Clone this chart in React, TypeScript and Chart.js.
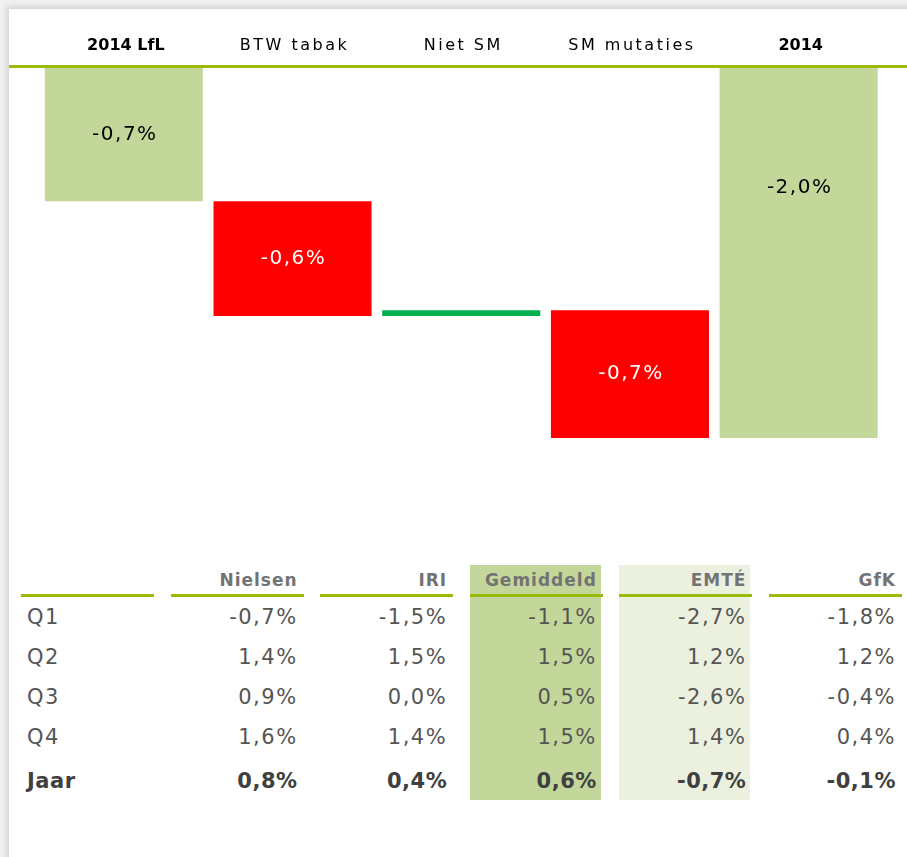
import React, { useEffect, useRef } from "react";
import { Chart, registerables } from "chart.js";

Chart.register(...registerables);

// ---- Waterfall data ----
const categories = ["2014 LfL", "BTW tabak", "Niet SM", "SM mutaties", "2014"];
const isTotal = [true, false, false, false, true];
const startValue = -0.72;
const steps = [-0.62, 0.03, -0.69];
const endValue = -2.0;

// ---- Table data ----
const tableRows = ["Q1", "Q2", "Q3", "Q4", "Jaar"];
const tableCols = ["Nielsen", "IRI", "Gemiddeld", "EMTÉ", "GfK"];
const nielsen = [-0.7, 1.4, 0.9, 1.6, 0.8];
const iri = [-1.5, 1.5, 0.0, 1.4, 0.4];
const gemiddeld = [-1.1, 1.5, 0.5, 1.5, 0.6];
const emte = [-2.7, 1.2, -2.6, 1.4, -0.7];
const gfk = [-1.8, 1.2, -0.4, 0.4, -0.1];
const tableValues = [nielsen, iri, gemiddeld, emte, gfk];

const GREEN_LIGHT = "#c4d79b";
const GREEN_PALE = "#ebf1de";
const RED = "#ff0000";
const GREEN_UP = "#00b050";
const LINE_GREEN = "#9bbb0a";

const fmt = (v: number) => v.toFixed(1).replace(".", ",") + "%";

// build floating bars
const floating: [number, number][] = [];
const barValues: number[] = [];
const barColors: string[] = [];
(() => {
  floating.push([startValue, 0]);
  barValues.push(startValue);
  barColors.push(GREEN_LIGHT);
  let run = startValue;
  steps.forEach((s) => {
    const next = run + s;
    floating.push([Math.min(run, next), Math.max(run, next)]);
    barValues.push(s);
    barColors.push(s < 0 ? RED : GREEN_UP);
    run = next;
  });
  floating.push([endValue, 0]);
  barValues.push(endValue);
  barColors.push(GREEN_LIGHT);
})();

const labelsPlugin = {
  id: "wfLabels",
  afterDatasetsDraw(chart: any) {
    const ctx = chart.ctx as CanvasRenderingContext2D;
    const meta = chart.getDatasetMeta(0);
    meta.data.forEach((bar: any, i: number) => {
      const v = barValues[i];
      if (Math.abs(v) < 0.05) return;
      const { x, y, base } = bar.getProps(["x", "y", "base"], true);
      const top = Math.min(y, base);
      const bottom = Math.max(y, base);
      const cy = i === categories.length - 1 ? top + (bottom - top) * 0.325 : (top + bottom) / 2;
      ctx.save();
      ctx.font = '20px "DejaVu Sans"';
      (ctx as any).letterSpacing = "1.5px";
      ctx.fillStyle = isTotal[i] ? "#000000" : "#ffffff";
      ctx.textAlign = "center";
      ctx.textBaseline = "middle";
      ctx.fillText(fmt(v), x + 1, cy);
      ctx.restore();
    });
  },
  afterDraw(chart: any) {
    const ctx = chart.ctx as CanvasRenderingContext2D;
    const xs = chart.scales.x;
    ctx.save();
    ctx.fillStyle = LINE_GREEN;
    ctx.fillRect(9, chart.chartArea.top - 3, chart.width - 9, 3);
    ctx.fillStyle = "#000000";
    ctx.textAlign = "center";
    ctx.textBaseline = "middle";
    categories.forEach((c, i) => {
      const px = xs.getPixelForValue(i);
      if (isTotal[i]) {
        ctx.font = 'bold 16px "DejaVu Sans"';
        (ctx as any).letterSpacing = "0px";
      } else {
        ctx.font = '16px "DejaVu Sans"';
        (ctx as any).letterSpacing = "2.5px";
      }
      ctx.fillText(c, px + 2, 46);
    });
    ctx.restore();
  },
};

function WaterfallChart() {
  const ref = useRef<HTMLCanvasElement | null>(null);
  useEffect(() => {
    if (!ref.current) return;
    const chart = new Chart(ref.current, {
      type: "bar",
      data: {
        labels: categories,
        datasets: [
          {
            data: floating as any,
            backgroundColor: barColors,
            borderWidth: 0,
            barPercentage: 0.937,
            categoryPercentage: 1,
            borderSkipped: false,
          },
        ],
      },
      options: {
        responsive: false,
        animation: false,
        layout: { padding: { top: 68, left: 39.5, right: 24, bottom: 22 } },
        plugins: { legend: { display: false }, tooltip: { enabled: false } },
        scales: {
          x: { display: false, offset: true },
          y: { display: false, min: -2.0, max: 0 },
        },
      },
      plugins: [labelsPlugin],
    });
    return () => chart.destroy();
  }, []);
  return (
    <canvas
      ref={ref}
      width={907}
      height={460}
      style={{ position: "absolute", left: 0, top: 0, width: 907, height: 460 }}
    />
  );
}

const COL_LEFT0 = 21;
const COL_PITCH = 149.6;
const COL_W = 133;
const ROW_Y = [620, 660, 700, 740, 784];
const HEADER_Y = 582;

function DataTable() {
  const cells: React.ReactNode[] = [];
  const bg: Record<number, string> = { 3: GREEN_LIGHT, 4: GREEN_PALE };
  for (let c = 0; c < 6; c++) {
    const left = COL_LEFT0 + c * COL_PITCH;
    if (bg[c]) {
      cells.push(
        <div key={"bg" + c} style={{ position: "absolute", left, top: 565, width: COL_W - 2, height: 235, background: bg[c] }} />
      );
    }
    cells.push(
      <div key={"ul" + c} style={{ position: "absolute", left, top: 594, width: COL_W, height: 3, background: LINE_GREEN }} />
    );
    if (c > 0) {
      cells.push(
        <div
          key={"h" + c}
          style={{
            position: "absolute", left, top: HEADER_Y - 12, width: COL_W - 6, height: 24, lineHeight: "24px",
            textAlign: "right", font: 'bold 17px "DejaVu Sans"', letterSpacing: "1px", color: "#737373",
          }}
        >
          {tableCols[c - 1]}
        </div>
      );
    }
  }
  tableRows.forEach((r, ri) => {
    const bold = ri === tableRows.length - 1;
    const font = (bold ? "bold " : "") + '21px "DejaVu Sans"';
    const color = bold ? "#404040" : "#555555";
    cells.push(
      <div
        key={"r" + ri}
        style={{
          position: "absolute", left: 27, top: ROW_Y[ri] - 15, height: 30, lineHeight: "30px",
          font, letterSpacing: bold ? "0.5px" : "1.5px", color,
        }}
      >
        {r}
      </div>
    );
    tableValues.forEach((col, ci) => {
      const left = COL_LEFT0 + (ci + 1) * COL_PITCH;
      cells.push(
        <div
          key={"v" + ri + "_" + ci}
          style={{
            position: "absolute", left, top: ROW_Y[ri] - 15, width: COL_W - 6, height: 30, lineHeight: "30px",
            textAlign: "right", font, letterSpacing: bold ? "0.5px" : "1.5px", color,
          }}
        >
          {fmt(col[ri])}
        </div>
      );
    });
  });
  return <>{cells}</>;
}

export default function App() {
  return (
    <div style={{ position: "absolute", left: 0, top: 0, width: 907, height: 857, background: "#f2f2f2", overflow: "hidden" }}>
      <div
        style={{
          position: "absolute", left: 9, top: 9, width: 910, height: 860, background: "#ffffff",
          boxShadow: "-3px -3px 6px rgba(0,0,0,0.12)",
        }}
      />
      <WaterfallChart />
      <DataTable />
    </div>
  );
}
